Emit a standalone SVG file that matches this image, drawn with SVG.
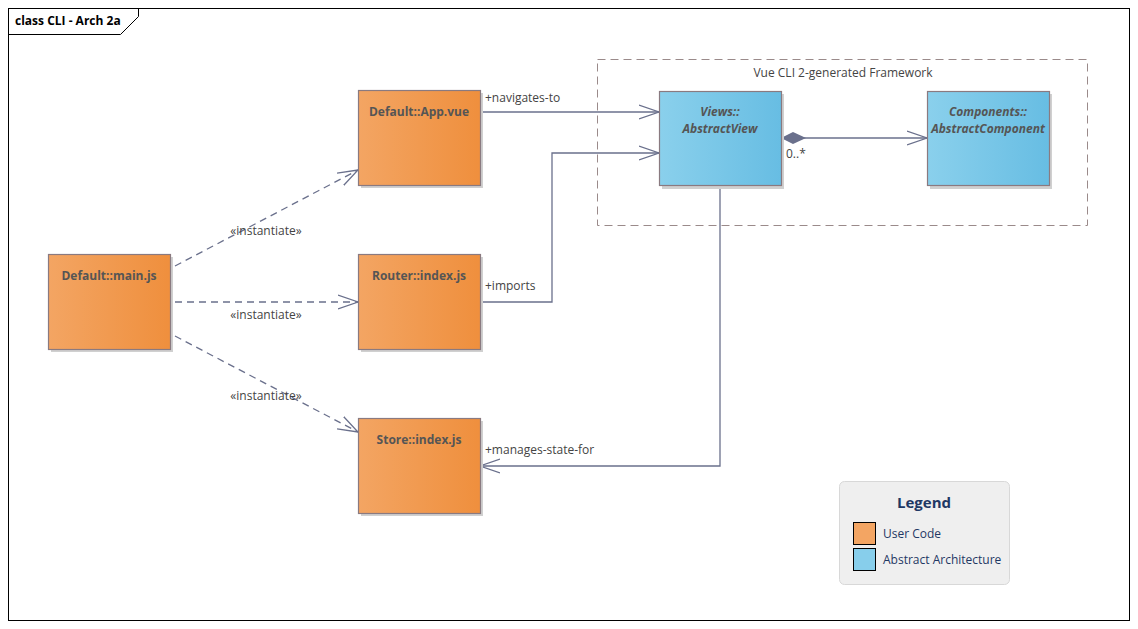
<svg xmlns="http://www.w3.org/2000/svg" width="1138" height="629" viewBox="0 0 1138 629">
<defs>
<linearGradient id="og" x1="0" x2="1" y1="0" y2="0"><stop offset="0" stop-color="#f3a563"/><stop offset="1" stop-color="#ef8f3d"/></linearGradient>
<linearGradient id="bg" x1="0" x2="1" y1="0" y2="0"><stop offset="0" stop-color="#8ad0ec"/><stop offset="1" stop-color="#67bde3"/></linearGradient>
<marker id="open" markerWidth="22" markerHeight="16" refX="20" refY="8" orient="auto" markerUnits="userSpaceOnUse"><path d="M0,1 L20,8 L0,15" fill="none" stroke="#6a708c" stroke-width="1.3"/></marker>
<marker id="dia" markerWidth="28" markerHeight="14" refX="1" refY="7" orient="auto" markerUnits="userSpaceOnUse"><path d="M1,7 L13,1 L26,7 L13,13 Z" fill="#6a708c"/></marker>
</defs>
<style>
text{font-family:"Open Sans","Liberation Sans",sans-serif;font-size:12px;fill:#555}
.nb{fill:url(#og);stroke:#8a7a80;stroke-width:1.2}
.bb{fill:url(#bg);stroke:#8a7a80;stroke-width:1.2}
.sh{fill:#d0d0d0}
.t{font-weight:bold;text-anchor:middle}
.i{font-weight:bold;font-style:italic;text-anchor:middle}
.c{fill:none;stroke:#6a708c;stroke-width:1.3}
.d{stroke-dasharray:7,5}
.lb{fill:#444}
</style>
<rect width="1138" height="629" fill="#fff"/>
<rect x="8.5" y="8.5" width="1121" height="612" fill="none" stroke="#000"/>
<path d="M8.5,34.5 H120.5 L138.5,16.5 V8.5" fill="none" stroke="#000"/>
<text x="15" y="25" style="fill:#000;font-weight:bold">class CLI - Arch 2a</text>
<g id="package">
<rect x="597.5" y="59.5" width="490" height="166" fill="none" stroke="#9a8a8a" stroke-dasharray="8,5"/>
<text x="843" y="77" text-anchor="middle" class="lb">Vue CLI 2-generated Framework</text>
</g>
<g id="connectors">
<line x1="480" y1="112" x2="659" y2="112" class="c" marker-end="url(#open)"/>
<text x="485" y="102" class="lb">+navigates-to</text>
<polyline points="480,302 552,302 552,153 659,153" class="c" marker-end="url(#open)"/>
<text x="485" y="290" class="lb">+imports</text>
<polyline points="720,185 720,466 480,466" class="c" marker-end="url(#open)"/>
<text x="485" y="454" class="lb">+manages-state-for</text>
<line x1="781" y1="138" x2="927" y2="138" class="c" marker-start="url(#dia)" marker-end="url(#open)"/>
<text x="786" y="158" class="lb">0..*</text>
<line x1="175" y1="266" x2="358" y2="170" class="c d" marker-end="url(#open)"/>
<text x="266" y="235" text-anchor="middle" class="lb">«instantiate»</text>
<line x1="175" y1="302" x2="358" y2="302" class="c d" marker-end="url(#open)"/>
<text x="266" y="319" text-anchor="middle" class="lb">«instantiate»</text>
<line x1="175" y1="336" x2="358" y2="432" class="c d" marker-end="url(#open)"/>
<text x="266" y="400" text-anchor="middle" class="lb">«instantiate»</text>
</g>
<g id="app"><rect x="361" y="93" width="122" height="95" class="sh"/><rect x="358.5" y="90.5" width="122" height="95" class="nb"/><text x="419" y="116" class="t">Default::App.vue</text></g>
<g id="main"><rect x="51" y="257" width="122" height="95" class="sh"/><rect x="48.5" y="254.5" width="122" height="95" class="nb"/><text x="109" y="280" class="t">Default::main.js</text></g>
<g id="router"><rect x="361" y="257" width="122" height="95" class="sh"/><rect x="358.5" y="254.5" width="122" height="95" class="nb"/><text x="419" y="280" class="t">Router::index.js</text></g>
<g id="store"><rect x="361" y="421" width="122" height="95" class="sh"/><rect x="358.5" y="418.5" width="122" height="95" class="nb"/><text x="419" y="444" class="t">Store::index.js</text></g>
<g id="view"><rect x="662" y="94" width="122" height="95" class="sh"/><rect x="659.5" y="91.5" width="122" height="94" class="bb"/><text x="720" y="116" class="i">Views::</text><text x="720" y="133" class="i">AbstractView</text></g>
<g id="component"><rect x="930" y="94" width="122" height="95" class="sh"/><rect x="927.5" y="91.5" width="122" height="94" class="bb"/><text x="988" y="116" class="i">Components::</text><text x="988" y="133" class="i">AbstractComponent</text></g>
<g id="legend">
<rect x="839.5" y="481.5" width="170" height="103" rx="5" fill="#efefef" stroke="#d8d8d8"/>
<text x="924" y="508" text-anchor="middle" style="font-size:15px;font-weight:bold;fill:#1f3864">Legend</text>
<rect x="853.5" y="522.5" width="22" height="22" fill="#f3a563" stroke="#000"/>
<text x="883" y="538" style="fill:#1f3864">User Code</text>
<rect x="853.5" y="548.5" width="22" height="22" fill="#87ceeb" stroke="#000"/>
<text x="883" y="564" style="fill:#1f3864">Abstract Architecture</text>
</g>
</svg>
